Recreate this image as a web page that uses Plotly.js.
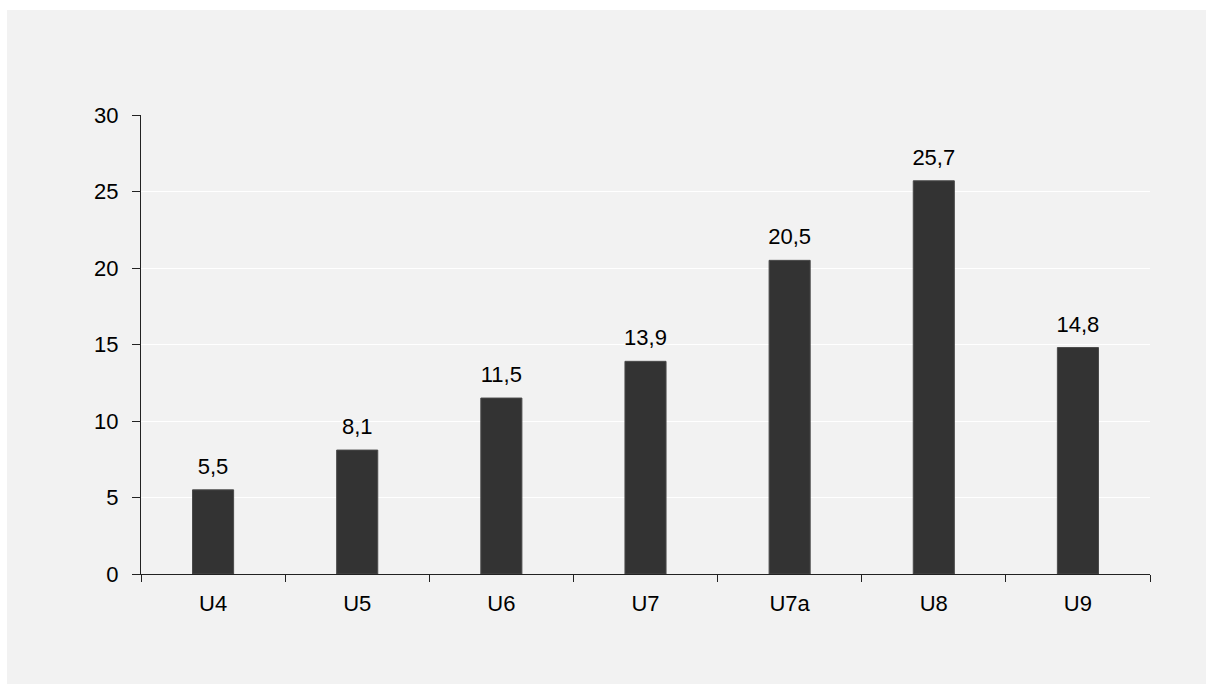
<!DOCTYPE html>
<html>
<head>
<meta charset="utf-8">
<script src="https://cdn.plot.ly/plotly-3.0.1.min.js"></script>
<style>
html,body{margin:0;padding:0;background:#ffffff;}
#chart{position:absolute;left:7px;top:10px;width:1199px;height:674px;}
</style>
</head>
<body>
<div id="chart"></div>
<script>
const categories = ["U4","U5","U6","U7","U7a","U8","U9"];
const values = [5.5, 8.1, 11.5, 13.9, 20.5, 25.7, 14.8];
const yTicks = [0, 5, 10, 15, 20, 25, 30];

const font = {family: "Liberation Sans, Arial, sans-serif", size: 22, color: "#000000"};

const bars = {
  type: "bar",
  x: categories,
  y: values,
  marker: {color: "#333333", line: {color: "#4a4a4a", width: 1}},
  hoverinfo: "none"
};
const labels = {
  type: "scatter",
  mode: "markers+text",
  x: categories,
  y: values,
  texttemplate: "%{y:.1f}",
  textposition: "top center",
  textfont: font,
  marker: {size: 15, opacity: 0},
  hoverinfo: "none",
  cliponaxis: false
};

const layout = {
  width: 1199, height: 674,
  margin: {l: 134, r: 56, t: 105, b: 110},
  paper_bgcolor: "#f2f2f2",
  plot_bgcolor: "#f2f2f2",
  separators: ", ",
  showlegend: false,
  bargap: 0.715,
  font: font,
  xaxis: {
    type: "category",
    showline: true, linecolor: "#222222", linewidth: 1,
    ticks: "outside", tickson: "boundaries", ticklen: 7, tickcolor: "#222222",
    showgrid: false, zeroline: false,
    tickfont: font,
    ticklabelstandoff: 10
  },
  yaxis: {
    range: [0, 30],
    tickvals: yTicks,
    showline: true, linecolor: "#222222", linewidth: 1,
    ticks: "outside", ticklen: 8, tickcolor: "#222222",
    showgrid: true, gridcolor: "#ffffff", gridwidth: 1,
    zeroline: false,
    tickfont: font,
    ticklabelstandoff: 9
  }
};

Plotly.newPlot("chart", [bars, labels], layout, {staticPlot: true, displayModeBar: false});
</script>
</body>
</html>
